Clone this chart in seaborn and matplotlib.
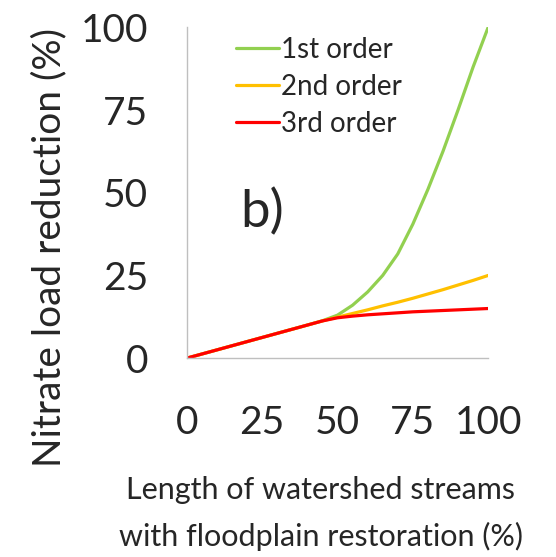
import numpy as np
import pandas as pd
import matplotlib
matplotlib.use("Agg")
import matplotlib.pyplot as plt
import seaborn as sns

x_pct = [0, 5, 10, 15, 20, 25, 30, 35, 40, 45, 50, 55, 60, 65, 70, 75, 80, 85, 90, 95, 100]
first_order = [0, 1.25, 2.5, 3.75, 5, 6.25, 7.5, 8.75, 10, 11.3, 13, 16, 20, 25, 31.5, 40.5, 51, 62.5, 75, 88, 100]
second_order = [0, 1.25, 2.5, 3.75, 5, 6.25, 7.5, 8.75, 10, 11.25, 12.4, 13.5, 14.6, 15.8, 16.9, 18.1, 19.4, 20.7, 22.1, 23.5, 25]
third_order = [0, 1.25, 2.5, 3.75, 5, 6.25, 7.5, 8.75, 10, 11.25, 12.2, 12.7, 13.1, 13.4, 13.7, 14.0, 14.2, 14.4, 14.6, 14.8, 15]
series_names = ["1st order", "2nd order", "3rd order"]
colors = ["#92D050", "#FFC000", "#FF0000"]
x_ticks = [0, 25, 50, 75, 100]
y_ticks = [0, 25, 50, 75, 100]

df = pd.DataFrame({
    "x": x_pct * 3,
    "y": first_order + second_order + third_order,
    "series": [series_names[0]] * len(x_pct) + [series_names[1]] * len(x_pct) + [series_names[2]] * len(x_pct),
})

sns.set_style("white")
plt.rcParams['font.family'] = ['Lato', 'DejaVu Sans']

fig = plt.figure(figsize=(5.56, 5.57), dpi=100)
ax = fig.add_axes([0.336, 0.357, 0.542, 0.594])
sns.lineplot(data=df, x="x", y="y", hue="series", palette=colors, linewidth=2.3, ax=ax, legend=True)

ax.set_xlim(0, 100)
ax.set_ylim(0, 100)
ax.set_xticks(x_ticks)
ax.set_yticks(y_ticks)
ax.set_xticklabels([str(t) for t in x_ticks], fontsize=28)
ax.set_yticklabels([str(t) for t in y_ticks], fontsize=28)
ax.tick_params(axis="both", direction="out", length=9, width=1, color="#BFBFBF")
ax.tick_params(axis="x", pad=25)
ax.tick_params(axis="y", pad=19)
for s in ["top", "right"]:
    ax.spines[s].set_visible(False)
for s in ["left", "bottom"]:
    ax.spines[s].set_color("#BFBFBF")
    ax.spines[s].set_linewidth(1)

ax.set_xlabel("Length of watershed streams\nwith floodplain restoration (%)", fontsize=22, linespacing=1.75)
ax.xaxis.set_label_coords(0.445, -0.355)
ax.xaxis.label.set_va("top")
ax.set_ylabel("Nitrate load reduction (%)", fontsize=28)
ax.yaxis.set_label_coords(-0.456, 0.335)
ax.yaxis.label.set_va("center")

ax.text(25, 44, "b)", fontsize=38, ha="center", va="center")

leg = ax.legend(loc="upper left", bbox_to_anchor=(0.125, 1.005), frameon=False, fontsize=20,
                handlelength=1.55, handletextpad=0.1, labelspacing=0.4, borderaxespad=0)
for line in leg.get_lines():
    line.set_linewidth(2.3)

fig.savefig("out.png", dpi=100)
